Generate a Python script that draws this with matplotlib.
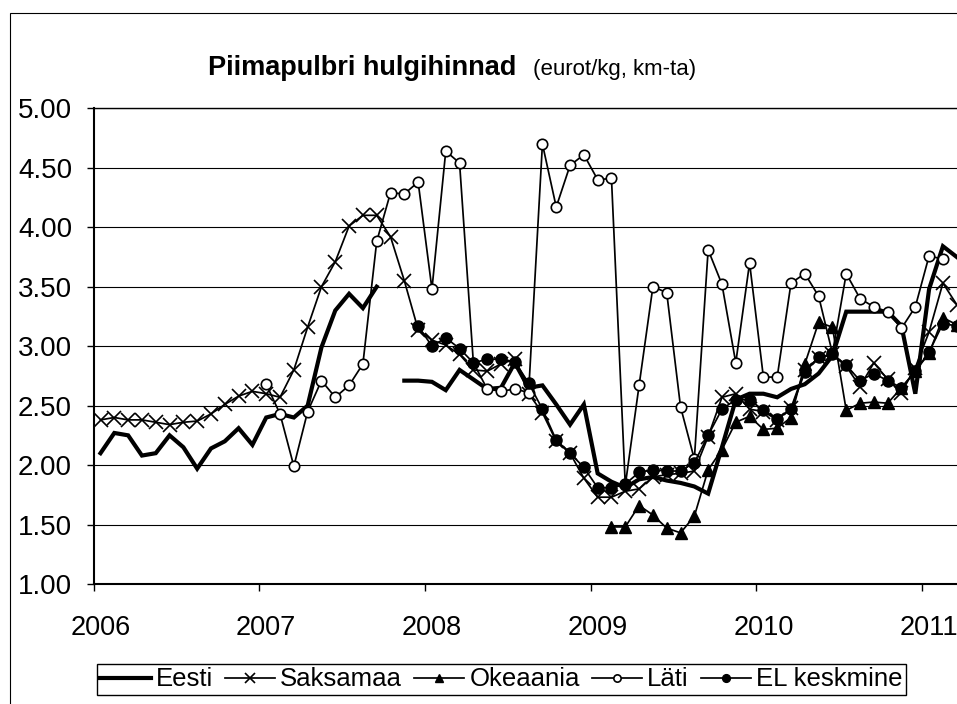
import numpy as np
import matplotlib
matplotlib.use("Agg")
import matplotlib.pyplot as plt
from matplotlib.patches import Rectangle

nan = np.nan

# month index 0 = Jan 2006
year_labels = ["2006", "2007", "2008", "2009", "2010", "2011"]

eesti = [2.10, 2.27, 2.25, 2.08, 2.10, 2.25, 2.15, 1.97, 2.14, 2.20, 2.31, 2.17,
         2.40, 2.43, 2.40, 2.50, 2.99, 3.30, 3.44, 3.32, 3.50, nan, 2.71, 2.71,
         2.70, 2.63, 2.80, 2.72, 2.64, 2.65, 2.86, 2.65, 2.67, 2.51, 2.34, 2.51,
         1.93, 1.86, 1.81, 1.88, 1.90, 1.87, 1.85, 1.82, 1.76, 2.15, 2.55, 2.60,
         2.60, 2.57, 2.64, 2.68, 2.77, 2.92, 3.29, 3.29, 3.29, 3.29, 3.17, 2.60,
         3.48, 3.84, 3.75]

saksamaa = [2.38, 2.40, 2.38, 2.38, 2.36, 2.34, 2.36, 2.37, 2.43, 2.51, 2.58, 2.62,
            2.60, 2.57, 2.80, 3.16, 3.50, 3.71, 4.01, 4.10, 4.10, 3.92, 3.55, 3.14,
            3.05, 3.01, 2.93, 2.80, 2.79, 2.85, 2.89, 2.60, 2.44, 2.20, 2.10, 1.89,
            1.73, 1.73, 1.78, 1.80, 1.90, 1.92, 1.93, 1.95, 2.24, 2.57, 2.60, 2.47,
            2.45, 2.38, 2.48, 2.80, 2.90, 2.93, 2.83, 2.66, 2.86, 2.72, 2.61, 2.82,
            3.12, 3.53, 3.35]

okeaania = [nan] * 37 + [1.48, 1.48, 1.66, 1.58, 1.47, 1.43, 1.57, 1.96, 2.13, 2.36, 2.41,
                         2.30, 2.31, 2.40, 2.85, 3.20, 3.16, 2.46, 2.52, 2.53, 2.52, 2.65,
                         2.79, 2.94, 3.24, 3.18]

lati = [nan] * 12 + [2.68, 2.43, 1.99, 2.45, 2.71, 2.57, 2.67, 2.85, 3.88, 4.29, 4.28, 4.38,
                     3.48, 4.64, 4.54, 2.86, 2.64, 2.62, 2.64, 2.61, 4.70, 4.17, 4.52, 4.61,
                     4.40, 4.41, 1.83, 2.67, 3.50, 3.45, 2.49, 2.05, 3.81, 3.52, 2.86, 3.70,
                     2.74, 2.74, 3.53, 3.61, 3.42, 2.94, 3.61, 3.40, 3.33, 3.29, 3.15, 3.33,
                     3.76, 3.73, nan]

el_keskmine = [nan] * 23 + [3.17, 3.00, 3.07, 2.98, 2.86, 2.89, 2.89, 2.87, 2.69, 2.47, 2.21,
                            2.10, 1.98, 1.81, 1.81, 1.84, 1.94, 1.96, 1.95, 1.95, 2.02, 2.25,
                            2.47, 2.55, 2.55, 2.46, 2.39, 2.47, 2.78, 2.91, 2.93, 2.84, 2.71,
                            2.77, 2.71, 2.65, 2.79, 2.95, 3.19, 3.17]

series_names = ["Eesti", "Saksamaa", "Okeaania", "Läti", "EL keskmine"]

plt.rcParams['font.family'] = ['Liberation Sans', 'DejaVu Sans']

W, H = 957, 704
fig = plt.figure(figsize=(W / 100, H / 100), dpi=100)

def fx(px):
    return px / W

def fy(py):
    return 1 - py / H

# outer chart frame (cut at right/bottom like the reference)
fig.patches.append(Rectangle((fx(10), -0.2), 3, fy(13) + 0.2, transform=fig.transFigure,
                             fill=False, edgecolor='black', linewidth=0.8, zorder=0))

left_px, right_px = 93.6, 93.6 + 66 * 13.81
top_px, bot_px = 108.3, 584
ax = fig.add_axes([fx(left_px), fy(bot_px), (right_px - left_px) / W, (bot_px - top_px) / H])

x = np.arange(len(saksamaa))

lw_thin = 1.25
ax.plot(x, eesti, color='black', lw=3.0, solid_joinstyle='miter', label=series_names[0], zorder=3)
ax.plot(x, saksamaa, color='black', lw=lw_thin, marker='x', ms=9.5, mew=1.2,
        label=series_names[1], zorder=4)
ax.plot(x, okeaania, color='black', lw=lw_thin, marker='^', ms=8.5, mfc='black', mec='black',
        label=series_names[2], zorder=5)
ax.plot(x, lati, color='black', lw=lw_thin, marker='o', ms=7.5, mfc='white', mec='black', mew=1.2,
        label=series_names[3], zorder=6)
ax.plot(x, el_keskmine, color='black', lw=lw_thin, marker='o', ms=8, mfc='black', mec='black',
        label=series_names[4], zorder=7)

ax.set_xlim(-0.5, 65.5)
ax.set_ylim(1, 5)
yt = np.arange(1.0, 5.01, 0.5)
ax.set_yticks(yt)
ax.set_yticklabels([f"{v:.2f}" for v in yt])
ax.yaxis.grid(True, color='black', lw=0.8)
ax.set_axisbelow(True)

ax.set_xticks([-0.5, 11.5, 23.5, 35.5, 47.5, 59.5])
ax.set_xticklabels([])
ax.set_xticks([0, 12, 24, 36, 48, 60], minor=True)
ax.set_xticklabels(year_labels, minor=True)
ax.tick_params(axis='x', which='major', direction='out', length=5, width=1)
ax.tick_params(axis='x', which='minor', length=0, pad=22, labelsize=19.5)
ax.tick_params(axis='y', direction='out', length=5, width=1, pad=10.5, labelsize=20)

for s in ['left', 'bottom']:
    ax.spines[s].set_linewidth(1.5)
ax.spines['top'].set_linewidth(1.0)
ax.spines['right'].set_visible(False)

# title
fig.text(fx(208), fy(75), "Piimapulbri hulgihinnad", fontsize=19.5, fontweight='bold',
         ha='left', va='baseline')
fig.text(fx(533), fy(75), "(eurot/kg, km-ta)", fontsize=16, ha='left', va='baseline')

handles, labels = ax.get_legend_handles_labels()
leg = fig.legend(handles, labels, loc='center', bbox_to_anchor=(fx(501.5), fy(679.5)),
                 ncol=5, frameon=True, fancybox=False, framealpha=1, edgecolor='black',
                 fontsize=18.5, borderpad=0.15, handlelength=1.95, handletextpad=0.2,
                 columnspacing=0.47, borderaxespad=0, markerscale=0.7)
leg.get_frame().set_linewidth(1.0)

fig.savefig("out.png", dpi=100)
